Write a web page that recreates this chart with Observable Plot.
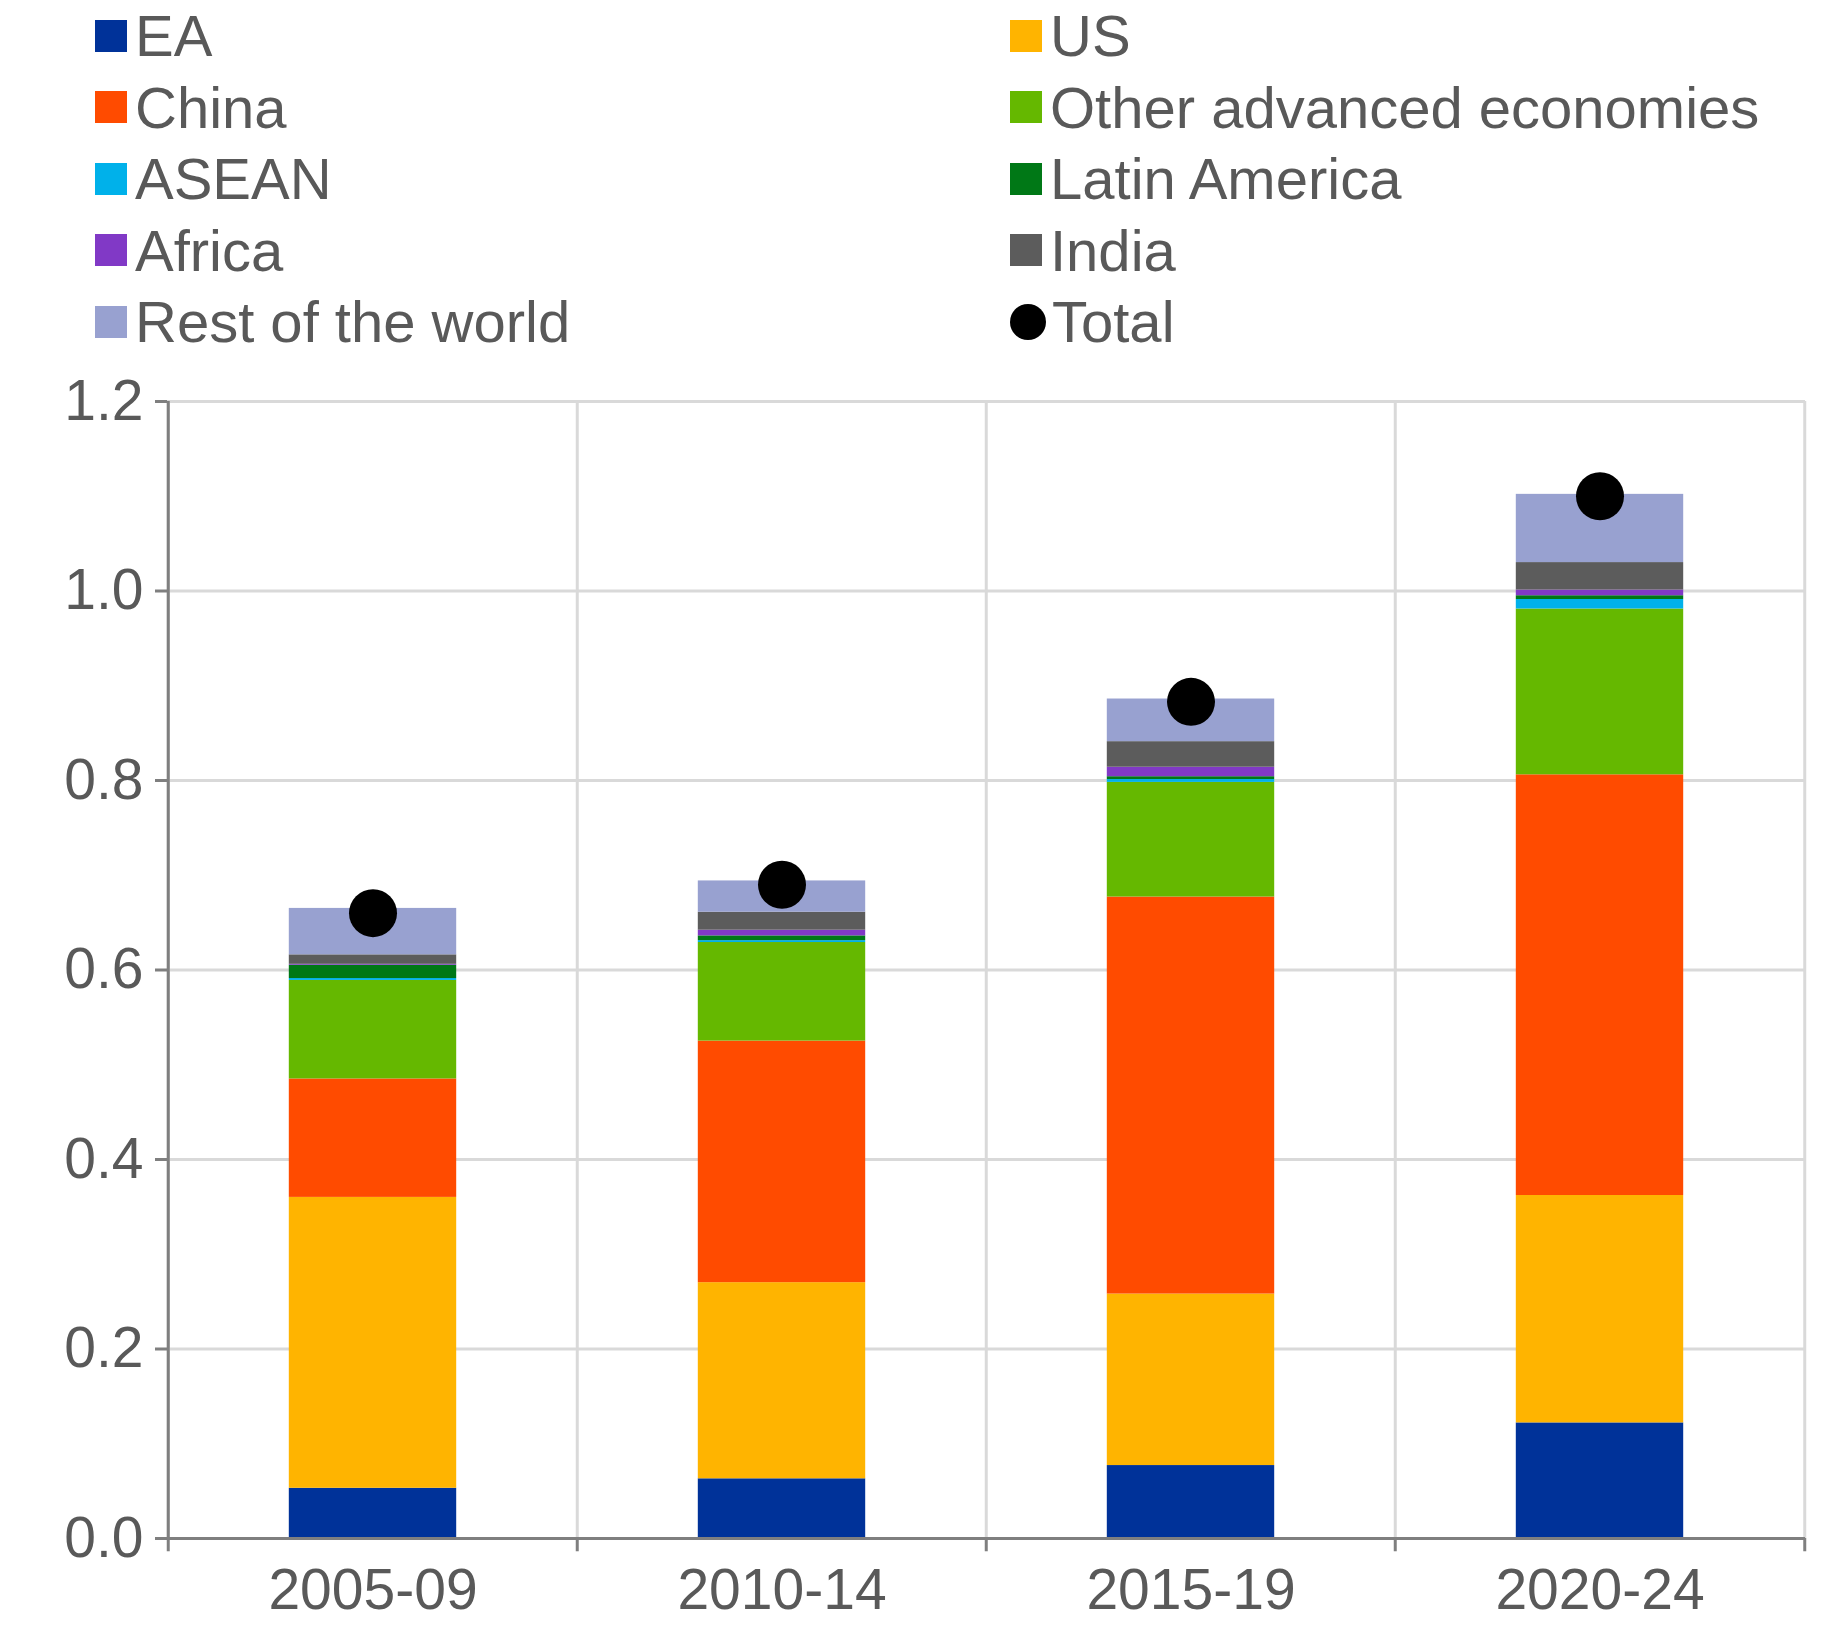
<!DOCTYPE html>
<html><head><meta charset="utf-8">
<script src="https://cdn.jsdelivr.net/npm/d3@7"></script>
<script src="https://cdn.jsdelivr.net/npm/@observablehq/plot@0.6"></script>
<style>
body{margin:0;background:#fff;font-family:Arial,"Liberation Sans",sans-serif;}
#legend{position:relative;height:360px;width:1835px;}
.li{position:absolute;display:flex;align-items:center;font-size:58px;color:#595959;white-space:nowrap;}
.sw{width:32px;height:32px;margin-right:8px;}
.dot{width:36px;height:36px;border-radius:50%;background:#000;margin-right:6px;}
</style></head><body>
<div id="legend"></div>
<div id="chart"></div>
<script>
const periods = ["2005-09","2010-14","2015-19","2020-24"];
const seriesNames = ["EA","US","China","Other advanced economies","ASEAN","Latin America","Africa","India","Rest of the world"];
const colors = ["#003299","#ffb400","#ff4b00","#65b800","#00b1ea","#007816","#8139c6","#5c5c5c","#98a1d0"];
const EA = [0.053,0.063,0.077,0.122];
const US = [0.307,0.207,0.181,0.240];
const China = [0.125,0.255,0.419,0.444];
const OtherAdv = [0.104,0.104,0.121,0.175];
const ASEAN = [0.002,0.002,0.003,0.010];
const LatAm = [0.014,0.005,0.003,0.004];
const Africa = [0.001,0.006,0.010,0.006];
const India = [0.010,0.019,0.027,0.029];
const RoW = [0.049,0.033,0.045,0.072];
const Total = [0.660,0.690,0.883,1.100];
const yTicks = [0,0.2,0.4,0.6,0.8,1.0,1.2];

const seriesVals = [EA,US,China,OtherAdv,ASEAN,LatAm,Africa,India,RoW];
const rows = [];
seriesNames.forEach((s,si)=>periods.forEach((p,pi)=>rows.push({period:p,series:s,value:seriesVals[si][pi]})));
const totals = periods.map((p,i)=>({period:p,total:Total[i]}));

const leg = document.getElementById("legend");
const order = [["EA",0],["US",1],["China",2],["Other advanced economies",3],["ASEAN",4],["Latin America",5],["Africa",6],["India",7],["Rest of the world",8],["Total",-1]];
order.forEach(([name,ci],k)=>{
  const col = k%2, row = Math.floor(k/2);
  const d = document.createElement("div");
  d.className="li";
  d.style.left = (col===0?95:1010)+"px";
  d.style.top = (2+row*71.5)+"px";
  d.innerHTML = (ci<0?'<div class="dot"></div>':`<div class="sw" style="background:${colors[ci]}"></div>`)+name;
  leg.appendChild(d);
});

const W=1835,H=1282,mL=167,mR=30,mT=41,mB=104;
const bw=(W-mL-mR)/periods.length;
const gridStyle={stroke:"#d9d9d9",strokeWidth:3};
const axStyle={stroke:"#7f7f7f",strokeWidth:3};
const chart = Plot.plot({
  width:W,height:H,marginLeft:mL,marginRight:mR,marginTop:mT,marginBottom:mB,
  style:{fontFamily:"Arial, 'Liberation Sans', sans-serif",fontSize:"57px",color:"#595959",background:"#fff"},
  x:{domain:periods,padding:0,label:null},
  y:{domain:[0,1.2],label:null},
  color:{domain:seriesNames,range:colors},
  marks:[
    Plot.ruleY(yTicks,gridStyle),
    Plot.ruleX(periods,{x:d=>d,dx:-bw/2,...gridStyle}),
    Plot.ruleX([periods[3]],{x:d=>d,dx:bw/2,...gridStyle}),
    Plot.barY(rows,{x:"period",y:"value",fill:"series",order:seriesNames,insetLeft:bw*0.295,insetRight:bw*0.295}),
    Plot.dot(totals,{x:"period",y:"total",r:24,fill:"#000"}),
    Plot.axisY({ticks:yTicks,tickFormat:d3.format(".1f"),tickSize:12,tickPadding:12,...axStyle,fill:"#595959",fontSize:57}),
    Plot.ruleX([periods[0]],{x:d=>d,dx:-bw/2,y1:0,y2:1.2,...axStyle}),
    Plot.ruleY([0],axStyle),
    Plot.ruleX(periods,{x:d=>d,dx:-bw/2,y1:0,y2:-0.014,...axStyle}),
    Plot.ruleX([periods[3]],{x:d=>d,dx:bw/2,y1:0,y2:-0.014,...axStyle}),
    Plot.axisX({tickSize:0,tickPadding:30,fill:"#595959",fontSize:57})
  ]
});
document.getElementById("chart").appendChild(chart);
</script></body></html>
